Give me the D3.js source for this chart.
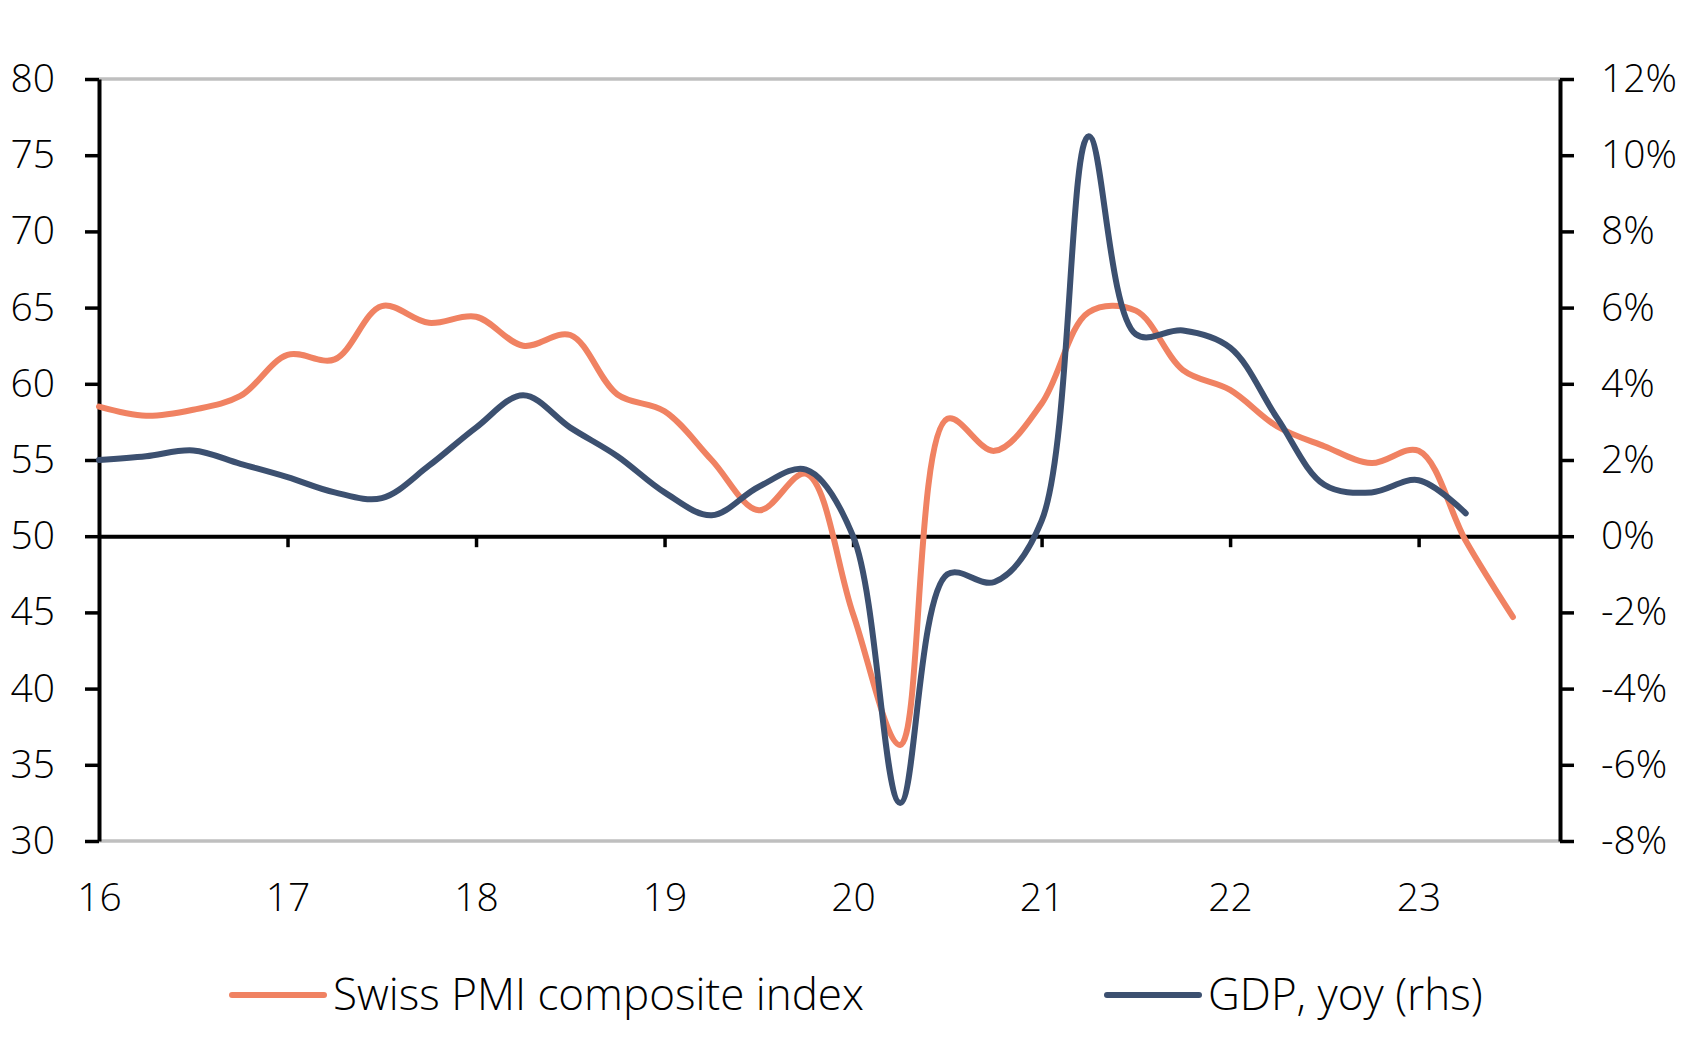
<!DOCTYPE html>
<html>

<head>
	<meta charset="utf-8">
	<script src="https://cdn.jsdelivr.net/npm/d3@7"></script>
	<style>
		body {
			margin: 0;
			background: white;
		}

		svg text {
			font-family: "Open Sans", "Noto Sans", sans-serif;
			font-weight: 300;
			fill: black;
		}

		.series {
			fill: none;
			stroke-width: 6;
			stroke-linejoin: round;
			stroke-linecap: round;
		}
	</style>
</head>

<body>
	<svg></svg>
	<script>
		// quarterly data, 2016 Q1 onward
		var pmi = [58.5, 57.9, 58.3, 59.2, 61.9, 61.6, 65.1, 64.0, 64.4, 62.5, 63.2, 59.3, 58.2, 55.0, 51.7, 54.1,
			44.9, 36.3, 57.7, 55.6, 58.7, 64.7, 64.8, 60.9, 59.6, 57.2, 55.9, 54.8, 55.6, 49.7, 44.7];
		var gdp = [2.0, 2.1, 2.25, 1.9, 1.55, 1.15, 1.0, 1.85, 2.85, 3.7, 2.85, 2.1, 1.15, 0.55, 1.3, 1.75,
			0.0, -7.0, -1.0, -1.2, 0.4, 10.5, 5.3, 5.4, 4.95, 3.1, 1.35, 1.15, 1.47, 0.6];
		var yearTicks = [2016, 2017, 2018, 2019, 2020, 2021, 2022, 2023];
		var leftTicks = [30, 35, 40, 45, 50, 55, 60, 65, 70, 75, 80];
		var rightTicks = [-8, -6, -4, -2, 0, 2, 4, 6, 8, 10, 12];
		var legendText = ["Swiss PMI composite index", "GDP, yoy (rhs)"];

		var orange = "#f08262";
		var navy = "#3c5070";

		var width = 1689;
		var height = 1040;
		var margins = { "left": 99, "right": 129, "top": 79, "bottom": 199 };

		var svg = d3.select("svg")
			.attr("width", width)
			.attr("height", height);

		var x = d3.scaleLinear()
			.domain([2016, 2023.75])
			.range([margins.left, width - margins.right]);
		var yL = d3.scaleLinear()
			.domain([30, 80])
			.range([height - margins.bottom, margins.top]);
		var yR = d3.scaleLinear()
			.domain([-8, 12])
			.range([height - margins.bottom, margins.top]);

		var quarter = (d, i) => 2016 + i / 4;

		// grey frame top and bottom
		svg.selectAll(".frame")
			.data([80, 30])
			.enter()
			.append("line")
			.attr("x1", x.range()[0])
			.attr("x2", x.range()[1])
			.attr("y1", d => yL(d))
			.attr("y2", d => yL(d))
			.attr("stroke", "#bfbfbf")
			.attr("stroke-width", 3.5);

		// left axis
		var left = svg.append("g")
			.attr("transform", "translate(" + x.range()[0] + ",0)")
			.call(d3.axisLeft(yL).tickValues(leftTicks).tickSize(14).tickPadding(30).tickSizeOuter(0));

		// right axis
		var right = svg.append("g")
			.attr("transform", "translate(" + x.range()[1] + ",0)")
			.call(d3.axisRight(yR).tickValues(rightTicks).tickSize(14).tickPadding(27).tickSizeOuter(0)
				.tickFormat(d => d + "%"));

		[left, right].forEach(g => {
			g.select(".domain").attr("stroke-width", 4);
			g.selectAll(".tick line").attr("stroke-width", 3.5);
			g.selectAll("text").attr("font-size", 39).style("font-family", null);
		});

		// zero line with year ticks hanging below
		var zero = svg.append("g")
			.attr("transform", "translate(0," + yL(50) + ")")
			.call(d3.axisBottom(x).tickValues(yearTicks.slice(1)).tickSize(11).tickSizeOuter(0).tickFormat(""));
		zero.select(".domain").attr("stroke-width", 4);
		zero.selectAll(".tick line").attr("stroke-width", 3.5);

		// year labels under the plot
		var labels = svg.append("g")
			.attr("transform", "translate(0," + yL(30) + ")")
			.call(d3.axisBottom(x).tickValues(yearTicks).tickSize(0).tickPadding(42)
				.tickFormat(d => String(d).slice(2)));
		labels.select(".domain").remove();
		labels.selectAll("text").attr("font-size", 39);

		var linePmi = d3.line()
			.x((d, i) => x(quarter(d, i)))
			.y(d => yL(d))
			.curve(d3.curveCatmullRom.alpha(0.5));
		var lineGdp = d3.line()
			.x((d, i) => x(quarter(d, i)))
			.y(d => yR(d))
			.curve(d3.curveCatmullRom.alpha(0.5));

		svg.append("path")
			.datum(pmi)
			.attr("class", "series")
			.attr("stroke", orange)
			.attr("d", linePmi);

		svg.append("path")
			.datum(gdp)
			.attr("class", "series")
			.attr("stroke", navy)
			.attr("d", lineGdp);

		// legend
		var legendX = [232, 1107];
		var legend = svg.selectAll(".legend")
			.data(legendText)
			.enter()
			.append("g")
			.attr("class", "legend")
			.attr("transform", (d, i) => "translate(" + legendX[i] + ",0)");
		legend.append("line")
			.attr("x1", 0)
			.attr("x2", 92)
			.attr("y1", 995)
			.attr("y2", 995)
			.attr("stroke", (d, i) => i == 0 ? orange : navy)
			.attr("stroke-width", 6)
			.attr("stroke-linecap", "round");
		legend.append("text")
			.attr("x", 101)
			.attr("y", 1010)
			.attr("font-size", 44)
			.text(d => d);
	</script>
</body>

</html>
